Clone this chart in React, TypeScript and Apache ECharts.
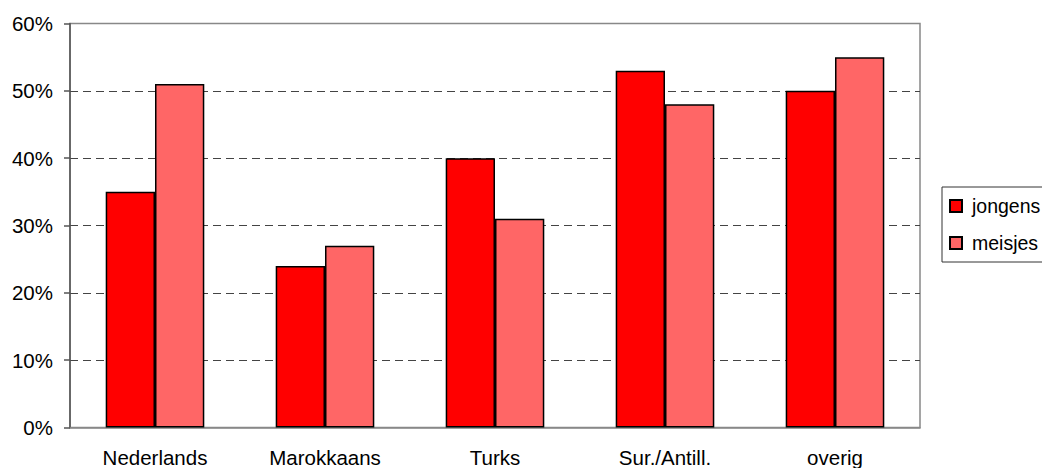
import React, { useEffect, useRef } from "react";
import * as echarts from "echarts";

const categories = ["Nederlands", "Marokkaans", "Turks", "Sur./Antill.", "overig"];
const jongens = [35, 24, 40, 53, 50];
const meisjes = [51, 27, 31, 48, 55];
const seriesNames = ["jongens", "meisjes"];
const yTicks = [0, 10, 20, 30, 40, 50, 60];

const FONT = "'Liberation Sans', Arial, sans-serif";

export default function App() {
  const ref = useRef<HTMLDivElement>(null);
  useEffect(() => {
    if (!ref.current) return;
    const chart = echarts.init(ref.current, undefined, { renderer: "svg" });
    chart.setOption({
      animation: false,
      backgroundColor: "#ffffff",
      grid: {
        left: 70,
        top: 23.5,
        right: 122,
        bottom: 40.5,
        show: true,
        borderColor: "#888888",
        borderWidth: 1.5,
        backgroundColor: "transparent",
      },
      legend: {
        orient: "vertical",
        left: 942,
        top: 187,
        data: seriesNames,
        icon: "rect",
        itemWidth: 12,
        itemHeight: 12,
        itemGap: 17,
        padding: [9, 30, 9, 7],
        borderColor: "#333333",
        borderWidth: 1,
        textStyle: {
          fontFamily: FONT,
          fontSize: 19.5,
          color: "#000",
          lineHeight: 20,
          padding: [0, 0, 0, 5],
        },
      },
      xAxis: {
        type: "category",
        data: categories,
        axisLine: { show: true, lineStyle: { color: "#888888", width: 1.5 } },
        axisTick: { show: false },
        axisLabel: { fontFamily: FONT, fontSize: 20.5, color: "#000", margin: 19, interval: 0 },
      },
      yAxis: {
        type: "value",
        min: 0,
        max: 60,
        interval: 10,
        axisLine: { show: true, lineStyle: { color: "#555555", width: 1.5 } },
        axisTick: { show: true, length: 6, lineStyle: { color: "#555555", width: 1.5 } },
        axisLabel: {
          fontFamily: FONT,
          fontSize: 20.5,
          color: "#000",
          margin: 17,
          formatter: (v: number) => (yTicks.includes(v) ? v + "%" : ""),
        },
        splitLine: {
          show: true,
          showMinLine: false,
          showMaxLine: false,
          lineStyle: { color: "#444444", type: [8, 5], width: 1 },
        },
      },
      series: [
        {
          name: seriesNames[0],
          type: "bar",
          data: jongens,
          barGap: "0%",
          barCategoryGap: "42%",
          itemStyle: { color: "#FF0000", borderColor: "#000", borderWidth: 1.5 },
        },
        {
          name: seriesNames[1],
          type: "bar",
          data: meisjes,
          itemStyle: { color: "#FF6666", borderColor: "#000", borderWidth: 1.5 },
        },
      ],
    });
    return () => chart.dispose();
  }, []);
  return <div ref={ref} style={{ width: 1042, height: 468, position: "absolute", left: 0, top: 0 }} />;
}
